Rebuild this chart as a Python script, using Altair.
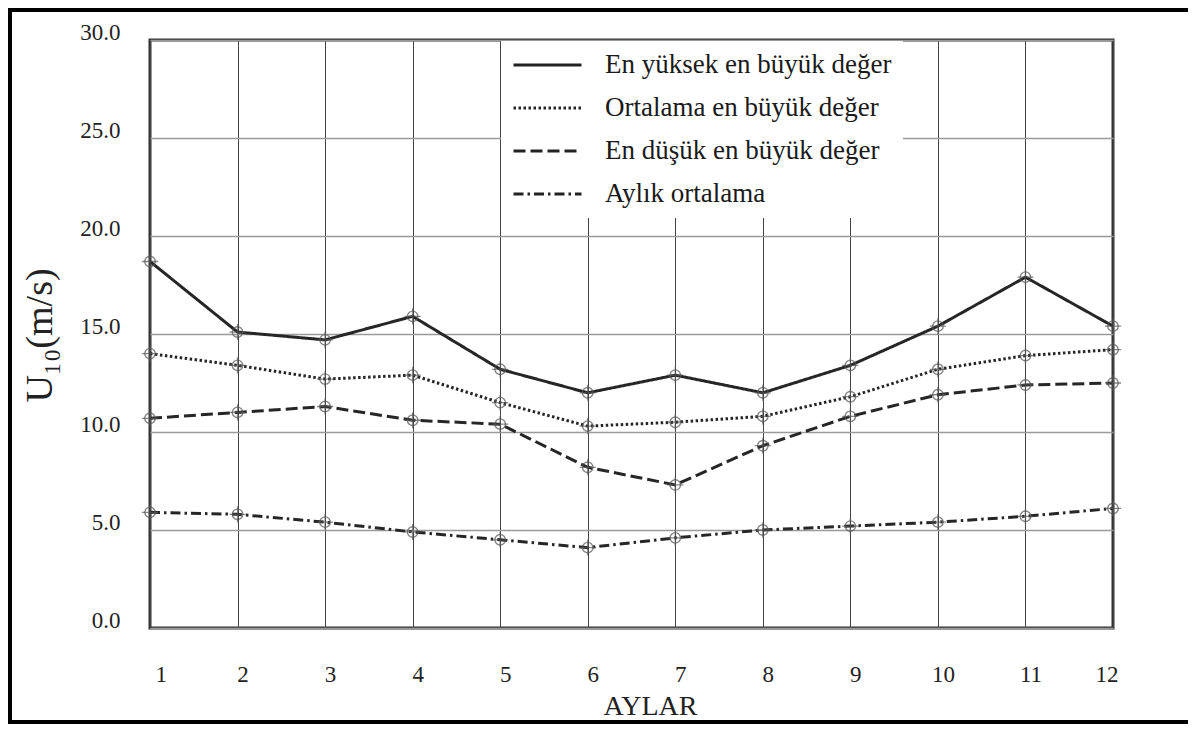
import altair as alt
import pandas as pd

months = list(range(1, 13))
series_names = [
    "En yüksek en büyük değer",
    "Ortalama en büyük değer",
    "En düşük en büyük değer",
    "Aylık ortalama",
]
max_vals = [18.7, 15.1, 14.7, 15.9, 13.2, 12.0, 12.9, 12.0, 13.4, 15.4, 17.9, 15.4]
mean_max_vals = [14.0, 13.4, 12.7, 12.9, 11.5, 10.3, 10.5, 10.8, 11.8, 13.2, 13.9, 14.2]
min_max_vals = [10.7, 11.0, 11.3, 10.6, 10.4, 8.2, 7.3, 9.3, 10.8, 11.9, 12.4, 12.5]
monthly_mean_vals = [5.9, 5.8, 5.4, 4.9, 4.5, 4.1, 4.6, 5.0, 5.2, 5.4, 5.7, 6.1]
y_ticks = [0, 5, 10, 15, 20, 25, 30]
dash_styles = [[1, 0], [2.5, 2.5], [12, 5], [10, 4, 2.5, 4]]

all_vals = [max_vals, mean_max_vals, min_max_vals, monthly_mean_vals]
rows = []
for name, vals in zip(series_names, all_vals):
    for m, v in zip(months, vals):
        rows.append({"month": m, "value": v, "series": name})
df = pd.DataFrame(rows)

FONT = "Liberation Serif"
W, H = 963, 588
PAD_L, PAD_T = 142, 32
TOTAL_W, TOTAL_H = 1180, 716

x_enc = alt.X(
    "month:Q",
    scale=alt.Scale(domain=[1, 12], nice=False, zero=False),
    axis=alt.Axis(
        values=months, format="d", title="AYLAR", grid=True, gridColor="#444",
        gridWidth=1, ticks=False, domain=False, labelPadding=35, labelOffset=5,
        labelFont=FONT, titleFont=FONT,
        labelFontSize=23, labelColor="#222", titleFontSize=28, titleFontWeight="normal",
        titleColor="#222", titleX=500, titleY=86, titleBaseline="alphabetic",
        titleAlign="center",
    ),
)
y_enc = alt.Y(
    "value:Q",
    scale=alt.Scale(domain=[0, 30], nice=False),
    axis=alt.Axis(
        values=y_ticks, format=".1f", title="U₁₀(m/s)", grid=True, gridColor="#9a9a9a",
        gridWidth=1.5, ticks=False, domain=False, labelPadding=30, labelOffset=-8,
        labelFont=FONT, titleFont=FONT,
        labelFontSize=23, labelColor="#222", titleFontSize=38, titleFontWeight="normal",
        titleColor="#222", titleAngle=270, titleX=-110, titleY=295, titleAlign="center",
        titleBaseline="middle",
    ),
)

lines = alt.Chart(df).mark_line(color="#262626", strokeWidth=3).encode(
    x=x_enc,
    y=y_enc,
    strokeDash=alt.StrokeDash(
        "series:N",
        scale=alt.Scale(domain=series_names, range=dash_styles),
        legend=alt.Legend(
            orient="none", legendX=351, legendY=1, title=None, symbolType="stroke",
            symbolSize=4624, symbolStrokeWidth=3, symbolStrokeColor="#222",
            clipHeight=26, rowPadding=16, padding=11, labelOffset=22,
            labelFont=FONT, labelFontSize=27, labelColor="#1a1a1a",
            fillColor="white", labelLimit=0,
        ),
    ),
)

circles = alt.Chart(df).mark_point(
    shape="circle", size=110, filled=False, stroke="#555", strokeWidth=1.4
).encode(x="month:Q", y="value:Q", detail="series:N")

crosses = alt.Chart(df).mark_point(
    shape="M-1,0L1,0M0,-1L0,1", size=260, filled=False, stroke="#555", strokeWidth=1.3
).encode(x="month:Q", y="value:Q", detail="series:N")

frame_top = alt.Chart(df).mark_rule(color="black", strokeWidth=4).encode(
    x=alt.value(-PAD_L), x2=alt.value(TOTAL_W - PAD_L), y=alt.value(-PAD_T + 2)
)
frame_left = alt.Chart(df).mark_rule(color="black", strokeWidth=4).encode(
    x=alt.value(-PAD_L + 2), y=alt.value(-PAD_T), y2=alt.value(TOTAL_H - PAD_T)
)
frame_bottom = alt.Chart(df).mark_rule(color="black", strokeWidth=4).encode(
    x=alt.value(-PAD_L), x2=alt.value(TOTAL_W - PAD_L), y=alt.value(TOTAL_H - PAD_T - 2)
)

chart = (
    alt.layer(lines, circles, crosses, frame_top, frame_left, frame_bottom)
    .properties(
        width=W, height=H,
        autosize=alt.AutoSizeParams(type="none"),
        padding={"left": PAD_L, "top": PAD_T,
                 "right": TOTAL_W - PAD_L - W, "bottom": TOTAL_H - PAD_T - H},
        background="white",
    )
    .configure(font=FONT)
    .configure_view(stroke="#333", strokeWidth=3)
)

chart.save("out.html", embed_options={"renderer": "svg", "actions": False})
